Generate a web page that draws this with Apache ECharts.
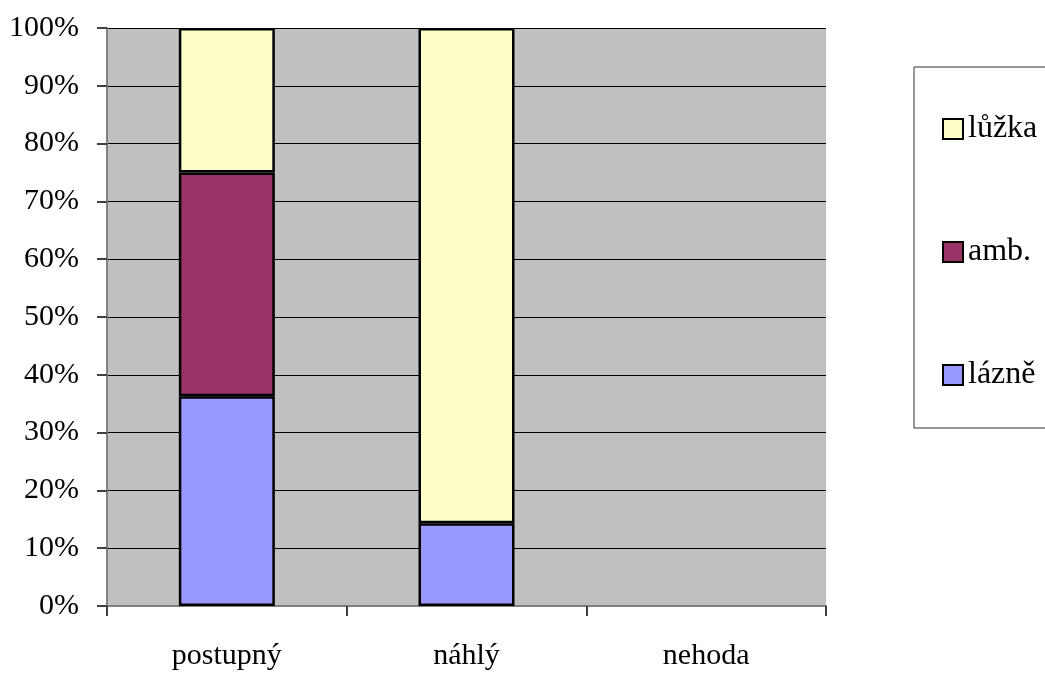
<!DOCTYPE html>
<html>
<head>
<meta charset="utf-8">
<script src="https://cdn.jsdelivr.net/npm/echarts@6/dist/echarts.min.js"></script>
<style>
  html, body { margin: 0; padding: 0; background: #ffffff; }
  #chart { width: 1045px; height: 673px; }
</style>
</head>
<body>
<div id="chart"></div>
<script>
// Categories on the x axis
const categories = ['postupný', 'náhlý', 'nehoda'];
// Share (%) per category, stacked bottom to top
const lazne = [36.3, 14.3, null];
const amb = [38.7, null, null];
const luzka = [25.0, 85.7, null];
// Legend order (top to bottom)
const legendOrder = ['lůžka', 'amb.', 'lázně'];

const FONT = "'Liberation Serif', 'Times New Roman', serif";

const chart = echarts.init(document.getElementById('chart'), null, { renderer: 'canvas' });

function barSeries(name, data, color) {
  return {
    name: name,
    type: 'bar',
    stack: 'total',
    data: data,
    barWidth: 96,
    itemStyle: { color: color, borderColor: '#000000', borderWidth: 2.5 },
    emphasis: { disabled: true }
  };
}

chart.setOption({
  animation: false,
  grid: {
    left: 107, right: 219, top: 28, bottom: 67,
    show: true, backgroundColor: '#c0c0c0', borderWidth: 0
  },
  legend: {
    data: legendOrder,
    orient: 'vertical',
    icon: 'rect',
    left: 914,
    top: 67,
    padding: [46, 80, 37, 28],
    itemGap: 91,
    itemWidth: 20,
    itemHeight: 20,
    backgroundColor: '#ffffff',
    borderColor: '#333333',
    borderWidth: 1,
    textStyle: { fontFamily: FONT, fontSize: 32, color: '#000000' }
  },
  xAxis: {
    type: 'category',
    data: categories,
    axisLine: { show: true, lineStyle: { color: '#808080', width: 2 } },
    axisTick: { show: true, length: 10, alignWithLabel: false, lineStyle: { color: '#404040', width: 2 } },
    axisLabel: { fontFamily: FONT, fontSize: 30, color: '#000000', margin: 35 },
    splitLine: { show: false }
  },
  yAxis: {
    type: 'value',
    min: 0,
    max: 100,
    interval: 10,
    axisLine: { show: true, lineStyle: { color: '#808080', width: 2 } },
    axisTick: { show: true, length: 10, lineStyle: { color: '#404040', width: 2 } },
    axisLabel: { fontFamily: FONT, fontSize: 30, color: '#000000', margin: 28, formatter: '{value}%' },
    splitLine: { show: true, lineStyle: { color: '#000000', width: 1 } }
  },
  series: [
    barSeries('lázně', lazne, '#9999ff'),
    barSeries('amb.', amb, '#993366'),
    barSeries('lůžka', luzka, '#ffffcc')
  ]
});
</script>
</body>
</html>
